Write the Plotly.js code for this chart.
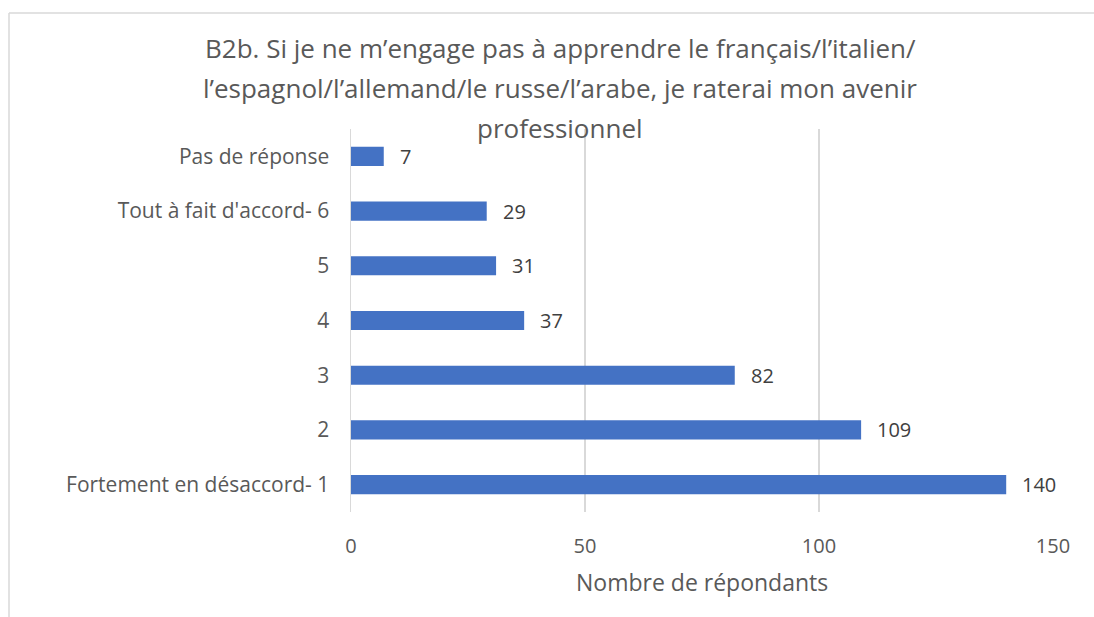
<!DOCTYPE html>
<html>
<head>
<meta charset="utf-8">
<script src="https://cdn.plot.ly/plotly-3.0.1.min.js"></script>
<style>
html,body{margin:0;padding:0;background:#fff;}
#chart{width:1094px;height:617px;}
</style>
</head>
<body>
<div id="chart"></div>
<script>
const categories = ["Fortement en désaccord- 1", "2", "3", "4", "5", "Tout à fait d'accord- 6", "Pas de réponse"];
const values = [140, 109, 82, 37, 31, 29, 7];
const xTicks = [0, 50, 100, 150];
const titleLines = [
  "B2b. Si je ne m’engage pas à apprendre le français/l’italien/",
  "l’espagnol/l’allemand/le russe/l’arabe, je raterai mon avenir",
  "professionnel"
];
const xTitle = "Nombre de répondants";

const FONT = "Open Sans, sans-serif";
const L = 351, R = 41, T = 129, B = 105, W = 1094, H = 617;
const pw = W - L - R, ph = H - T - B;
const px = x => (x - L) / pw;
const py = y => (H - B - y) / ph;

const annotations = [];
titleLines.forEach((t, i) => {
  annotations.push({
    text: t, xref: 'paper', yref: 'paper', x: px(560), y: py(48 + i * 40),
    xanchor: 'center', yanchor: 'middle', showarrow: false,
    font: {family: FONT, size: 26, color: '#595959'}
  });
});
values.forEach((v, i) => {
  annotations.push({
    text: String(v), x: v, y: i, xref: 'x', yref: 'y',
    xanchor: 'left', yanchor: 'middle', xshift: 14, showarrow: false,
    font: {family: FONT, size: 20, color: '#404040'}
  });
});
annotations.push({
  text: xTitle, xref: 'paper', yref: 'paper', x: 0.5, y: py(582),
  xanchor: 'center', yanchor: 'middle', showarrow: false,
  font: {family: FONT, size: 23, color: '#595959'}
});

const data = [{
  type: 'bar', orientation: 'h', x: values, y: categories,
  marker: {color: '#4472C4'}, hoverinfo: 'x+y'
}];

const layout = {
  width: W, height: H,
  margin: {l: L, r: R, t: T, b: B},
  paper_bgcolor: '#fff', plot_bgcolor: '#fff',
  showlegend: false,
  bargap: 0.65,
  xaxis: {
    range: [0, 150], tickvals: xTicks, ticktext: xTicks.map(String),
    showgrid: true, gridcolor: '#d9d9d9', gridwidth: 1.3,
    zeroline: false,
    showline: false, ticks: '',
    ticklabelstandoff: 20,
    tickfont: {family: FONT, size: 20, color: '#595959'}
  },
  yaxis: {
    type: 'category', categoryorder: 'array', categoryarray: categories,
    showgrid: false, zeroline: false,
    showline: true, linecolor: '#d9d9d9', linewidth: 1.5,
    ticks: '',
    ticklabelstandoff: 16,
    tickfont: {family: FONT, size: 21, color: '#595959'}
  },
  annotations: annotations,
  shapes: [
    {type: 'line', xref: 'paper', yref: 'paper', x0: px(9), x1: px(1100), y0: py(13), y1: py(13),
     line: {color: '#d9d9d9', width: 1.5}},
    {type: 'line', xref: 'paper', yref: 'paper', x0: px(9), x1: px(9), y0: py(13), y1: py(625),
     line: {color: '#d9d9d9', width: 1.5}}
  ]
};

Plotly.newPlot('chart', data, layout, {displayModeBar: false, staticPlot: true});
</script>
</body>
</html>
